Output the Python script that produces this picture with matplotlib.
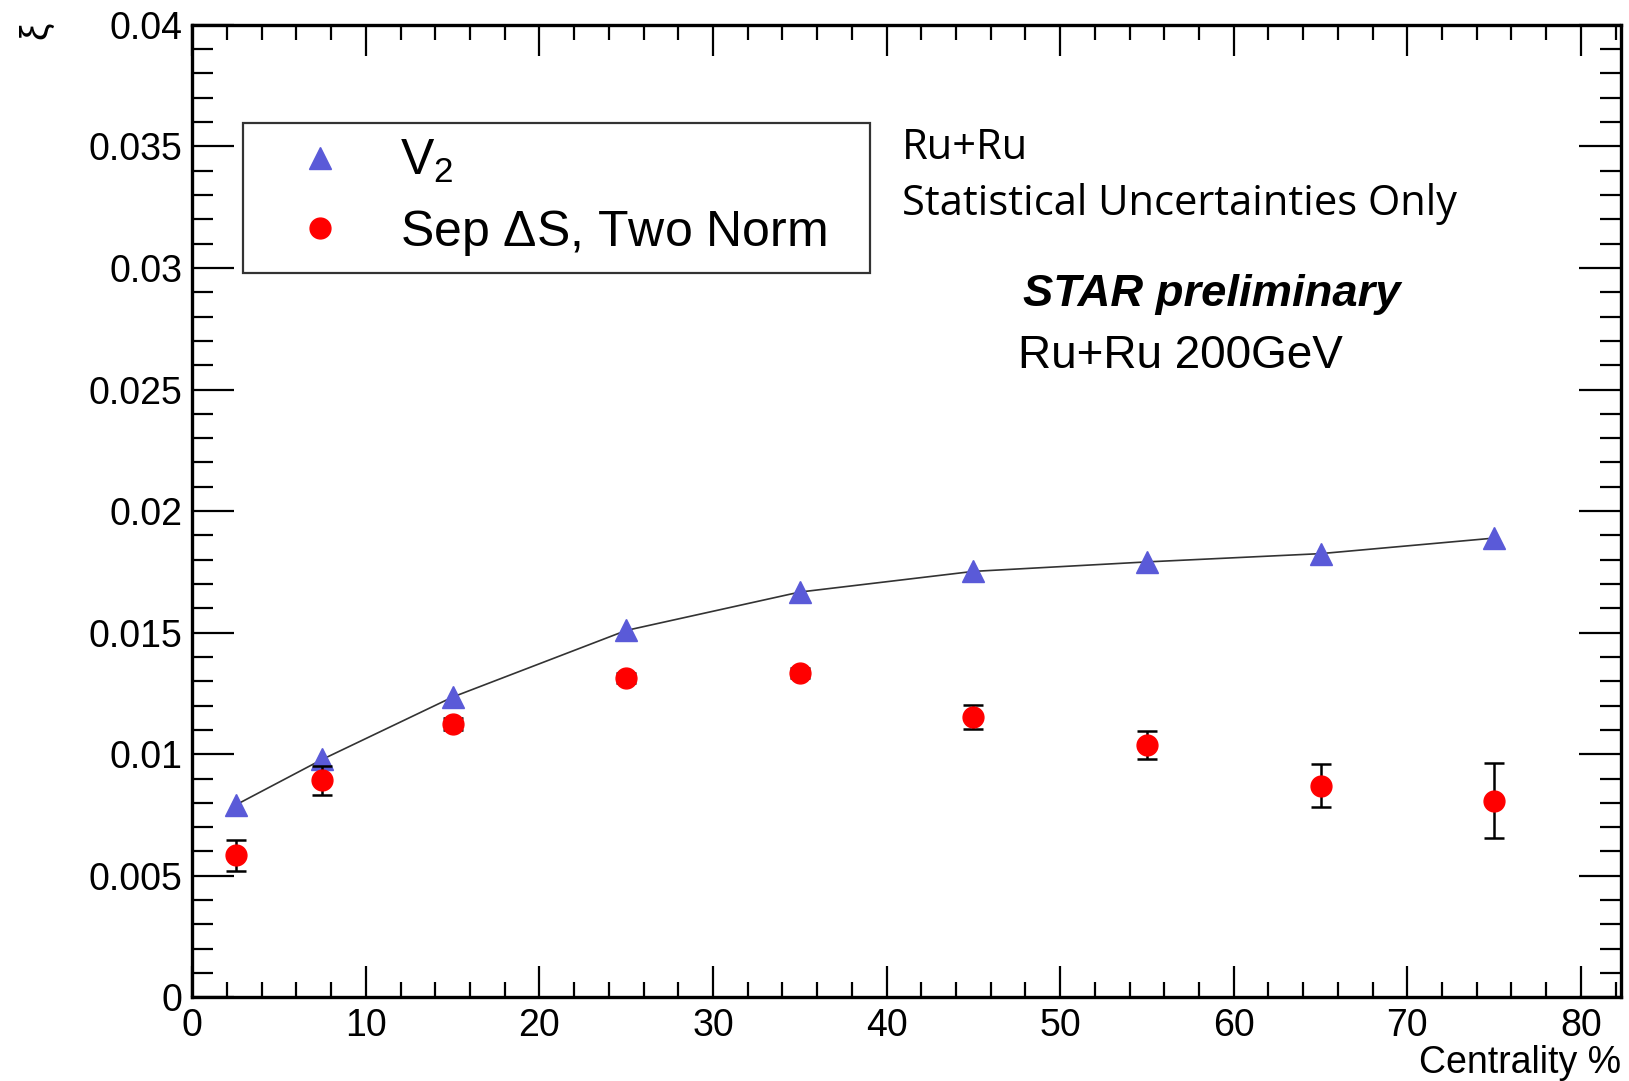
import numpy as np
import matplotlib
matplotlib.use('Agg')
import matplotlib.pyplot as plt
from matplotlib.ticker import MultipleLocator
from matplotlib.lines import Line2D

plt.rcParams['font.family'] = 'Liberation Sans'
plt.rcParams['mathtext.fontset'] = 'custom'
plt.rcParams['mathtext.rm'] = 'Liberation Sans'

# centrality bins (%)
cent = [2.5, 7.5, 15, 25, 35, 45, 55, 65, 75]
# v2 values
v2 = [0.00791, 0.00979, 0.01235, 0.01509, 0.01667, 0.01752, 0.01791, 0.01825, 0.01889]
# separated Delta S, two norm
sep = [0.00585, 0.00893, 0.01124, 0.01312, 0.01333, 0.01154, 0.01038, 0.00871, 0.00809]
sep_err = [0.00064, 0.00060, 0.00025, 0.00020, 0.00020, 0.00050, 0.00058, 0.00090, 0.00153]

v2_color = '#5a5ad8'

fig = plt.figure(figsize=(16.29, 10.81), dpi=100)
ax = fig.add_axes([0.118, 0.0774, 0.877, 0.8996])

ax.plot(cent, v2, color='#333333', lw=1.2, zorder=2)
ax.plot(cent, v2, ls='none', marker='^', ms=16, color=v2_color, zorder=3)
ax.errorbar(cent, sep, yerr=sep_err, fmt='o', ms=15, color='red', ecolor='black',
            elinewidth=1.8, capsize=7, capthick=1.8, zorder=4)

ax.set_xlim(0, 82.3)
ax.set_ylim(0, 0.04)
ax.xaxis.set_major_locator(MultipleLocator(10))
ax.xaxis.set_minor_locator(MultipleLocator(2))
ax.yaxis.set_minor_locator(MultipleLocator(0.001))
ax.set_yticks(np.arange(0, 0.0401, 0.005))
ax.set_yticklabels(['0', '0.005', '0.01', '0.015', '0.02', '0.025', '0.03', '0.035', '0.04'])
ax.tick_params(which='both', direction='in', top=True, right=True, width=1.6, labelsize=27)
ax.tick_params(axis='x', which='major', length=22, pad=8)
ax.tick_params(axis='x', which='minor', length=11)
ax.tick_params(axis='y', which='major', length=30, pad=7)
ax.tick_params(axis='y', which='minor', length=15)
for s in ax.spines.values():
    s.set_linewidth(2.4)

handles = [Line2D([], [], ls='none', marker='^', ms=16, color=v2_color),
           Line2D([], [], ls='none', marker='o', ms=15, color='red')]
labels = ['V$_2$', 'Sep $\\Delta$S, Two Norm']
leg = ax.legend(handles, labels, loc='upper left', bbox_to_anchor=(0.0356, 0.748, 0.439, 0.151),
                mode='expand', fontsize=36, frameon=True, fancybox=False, edgecolor='black',
                borderpad=0.3, handletextpad=0.36, labelspacing=0.45, handlelength=2.48,
                borderaxespad=0)
leg.get_frame().set_linewidth(1.6)

fig.text(0.995, 0.0, 'Centrality %', ha='right', va='bottom', fontsize=27)
fig.text(0.022, 0.972, 'ξ', rotation=90, ha='center', va='center', fontsize=28)

fig.text(0.5535, 0.853, 'Ru+Ru', family='Open Sans', fontsize=30, ha='left', va='baseline')
fig.text(0.5535, 0.801, 'Statistical Uncertainties Only', family='Open Sans', fontsize=30,
         ha='left', va='baseline')
fig.text(0.628, 0.717, 'STAR preliminary', fontsize=32.7, weight='bold', style='italic',
         ha='left', va='baseline')
fig.text(0.625, 0.66, 'Ru+Ru 200GeV', fontsize=33, ha='left', va='baseline')

fig.savefig('out.png', dpi=100)
